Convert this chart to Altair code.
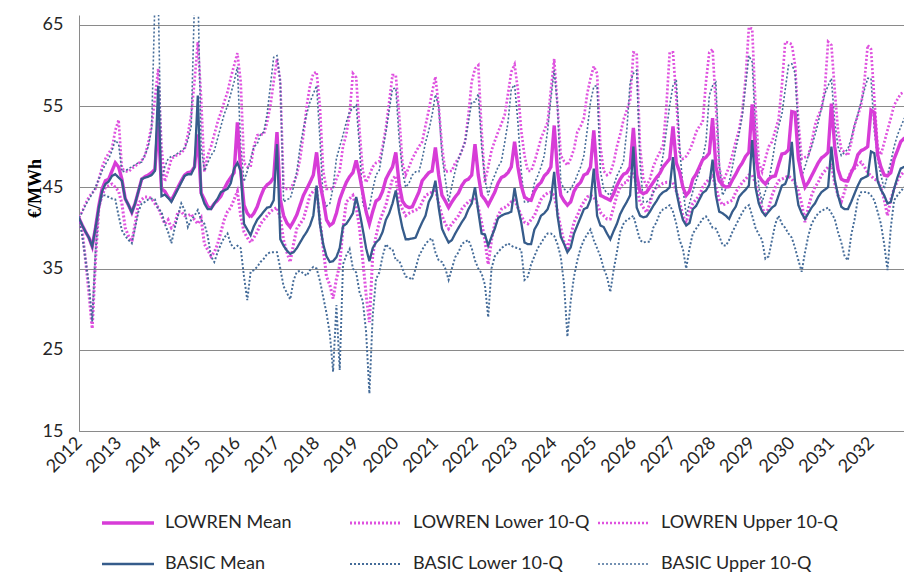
import altair as alt
import pandas as pd

SERIES = ["LOWREN Mean", "LOWREN Lower 10-Q", "LOWREN Upper 10-Q",
          "BASIC Mean", "BASIC Lower 10-Q", "BASIC Upper 10-Q"]
YEAR_TICKS = list(range(0, 241, 12))   # month index of each January label
Y_TICKS = [15, 25, 35, 45, 55, 65]

# monthly values, one row per year 2012..2032 (Jan..Dec)
lowren_mean = [
    [41.2, 40.3, 39.5, 38.8, 37.7, 40.0, 42.7, 44.8, 45.8, 46.0, 47.0, 48.0],
    [47.5, 46.0, 43.6, 42.8, 41.9, 43.0, 44.5, 46.0, 46.3, 46.5, 46.8, 47.2],
    [53.0, 44.8, 44.5, 43.8, 43.4, 44.2, 45.0, 45.8, 46.5, 46.8, 46.9, 47.5],
    [51.5, 44.3, 43.5, 42.6, 42.4, 43.0, 43.4, 43.9, 44.8, 45.6, 46.2, 46.8],
    [53.0, 47.0, 42.8, 41.8, 41.3, 41.8, 42.6, 43.8, 44.8, 45.3, 45.6, 46.2],
    [51.8, 43.5, 41.5, 40.6, 40.1, 40.8, 41.6, 42.8, 44.0, 44.8, 45.6, 46.5],
    [49.3, 45.5, 43.5, 41.0, 40.3, 40.6, 41.8, 43.5, 44.6, 45.6, 46.3, 46.8],
    [48.3, 46.5, 44.3, 42.0, 40.5, 42.0, 43.3, 43.6, 44.5, 46.0, 46.8, 47.5],
    [49.3, 45.5, 43.3, 42.7, 42.5, 42.6, 43.5, 44.4, 45.8, 46.3, 46.8, 47.0],
    [49.9, 46.5, 44.0, 43.3, 42.5, 43.2, 43.8, 44.3, 45.2, 45.8, 46.0, 46.5],
    [50.3, 46.5, 44.0, 43.5, 42.8, 43.6, 44.4, 45.5, 46.2, 46.4, 46.8, 47.5],
    [50.6, 47.5, 45.2, 43.8, 43.5, 43.4, 44.5, 45.2, 45.6, 46.4, 46.8, 47.5],
    [52.6, 47.0, 44.0, 43.3, 42.8, 43.2, 44.5, 45.2, 45.6, 46.5, 46.7, 47.5],
    [52.0, 46.5, 44.0, 43.8, 43.6, 43.4, 44.2, 45.2, 46.0, 46.6, 46.8, 47.5],
    [52.3, 46.5, 44.5, 44.2, 44.4, 45.0, 45.6, 46.2, 46.7, 47.5, 48.0, 48.5],
    [52.5, 48.0, 46.9, 45.0, 44.0, 44.5, 46.0, 46.6, 47.5, 48.4, 48.7, 49.2],
    [53.5, 47.5, 45.8, 45.3, 45.0, 45.1, 45.9, 46.6, 47.4, 48.0, 48.8, 49.3],
    [55.2, 49.0, 46.4, 45.8, 45.4, 46.0, 46.3, 46.4, 47.8, 49.1, 49.2, 49.6],
    [54.3, 54.2, 48.5, 46.5, 45.0, 45.6, 46.4, 47.2, 48.0, 48.6, 48.9, 49.3],
    [55.3, 50.0, 47.2, 46.0, 45.8, 45.8, 46.8, 47.6, 49.0, 49.5, 49.7, 50.0],
    [54.5, 54.2, 49.0, 47.5, 46.5, 46.4, 46.8, 48.5, 49.5, 50.6, 51.0, 51.2],
]
lowren_lower = [
    [41.2, 39.5, 36.0, 32.0, 27.6, 36.0, 42.5, 44.0, 45.0, 45.2, 45.4, 45.0],
    [44.5, 43.0, 40.0, 39.0, 38.3, 40.5, 43.0, 43.5, 43.8, 43.8, 43.6, 43.0],
    [42.5, 41.5, 40.5, 41.0, 40.0, 40.4, 42.0, 42.0, 41.5, 41.5, 41.7, 41.0],
    [40.5, 41.2, 38.0, 37.3, 36.5, 37.0, 38.0, 39.5, 41.0, 42.0, 42.5, 43.5],
    [44.5, 41.5, 39.5, 38.8, 38.2, 38.8, 39.5, 40.5, 41.0, 41.5, 42.0, 42.3],
    [42.5, 41.2, 38.5, 37.0, 35.8, 38.0, 39.9, 40.5, 41.1, 42.5, 44.0, 44.5],
    [44.8, 41.0, 37.5, 34.0, 33.0, 31.3, 33.7, 35.4, 40.0, 43.2, 43.6, 44.0],
    [42.5, 40.0, 36.0, 31.8, 28.4, 36.6, 39.0, 40.7, 41.8, 42.8, 44.5, 46.0],
    [46.4, 43.2, 42.3, 41.5, 41.8, 42.0, 42.2, 42.3, 43.2, 44.0, 44.2, 44.4],
    [44.8, 43.0, 41.5, 40.5, 39.9, 40.5, 41.0, 41.5, 42.3, 42.8, 43.2, 43.5],
    [43.8, 42.5, 40.7, 38.5, 35.5, 38.5, 40.5, 41.5, 42.3, 42.5, 42.8, 43.2],
    [43.4, 42.5, 41.5, 40.7, 40.5, 41.0, 41.5, 42.5, 43.5, 44.0, 44.3, 44.4],
    [44.0, 42.0, 40.0, 38.2, 37.5, 39.0, 40.7, 41.5, 42.5, 43.2, 43.8, 44.0],
    [43.8, 43.0, 41.9, 41.5, 41.1, 41.1, 42.5, 44.0, 45.0, 45.5, 45.6, 46.5],
    [46.9, 45.0, 43.2, 42.5, 41.9, 43.0, 44.5, 45.0, 45.2, 45.5, 45.6, 45.6],
    [45.6, 44.5, 43.2, 41.5, 40.7, 42.0, 43.0, 43.5, 44.0, 45.0, 45.6, 46.0],
    [46.4, 45.0, 43.5, 42.8, 43.0, 43.2, 43.4, 44.4, 45.0, 45.6, 46.0, 46.5],
    [46.5, 45.5, 43.8, 42.5, 41.5, 42.5, 44.0, 45.0, 45.8, 46.0, 46.2, 46.4],
    [46.0, 45.5, 44.5, 43.0, 40.7, 42.5, 44.0, 45.0, 45.6, 46.5, 47.0, 47.5],
    [47.7, 45.5, 44.0, 43.2, 44.5, 46.0, 47.0, 47.3, 47.8, 48.1, 47.5, 46.8],
    [46.4, 46.0, 45.8, 45.0, 43.5, 41.5, 43.5, 44.8, 45.8, 46.5, 46.9, 47.0],
]
lowren_upper = [
    [41.3, 42.0, 43.0, 43.8, 44.3, 44.8, 46.0, 47.5, 48.5, 49.2, 49.8, 52.0],
    [53.3, 47.3, 47.0, 46.9, 47.3, 47.6, 47.9, 48.3, 48.9, 50.5, 52.6, 55.9],
    [59.6, 50.0, 45.7, 47.0, 48.5, 48.8, 49.0, 49.2, 49.7, 51.5, 53.9, 58.0],
    [62.9, 56.0, 46.9, 48.9, 50.0, 51.5, 53.0, 54.2, 55.5, 56.7, 58.5, 60.0],
    [61.5, 58.0, 48.0, 47.5, 47.5, 50.0, 51.4, 51.5, 51.5, 53.0, 55.0, 58.0],
    [60.8, 58.0, 44.8, 44.8, 44.8, 45.5, 46.5, 48.5, 51.4, 55.0, 57.5, 59.0],
    [59.2, 55.0, 47.0, 44.8, 44.8, 44.8, 46.0, 47.0, 50.0, 51.5, 54.0, 59.0],
    [58.5, 52.0, 47.0, 45.6, 46.5, 47.5, 48.0, 48.2, 50.0, 52.3, 55.5, 58.8],
    [58.8, 54.0, 48.0, 46.5, 47.5, 48.5, 49.3, 50.0, 50.6, 52.6, 54.5, 56.7],
    [58.6, 55.0, 50.0, 46.9, 47.0, 47.0, 48.0, 48.5, 49.5, 50.6, 53.9, 58.0],
    [59.6, 60.0, 52.0, 45.6, 47.5, 49.5, 50.7, 51.8, 52.8, 53.9, 56.5, 59.2],
    [60.1, 57.0, 52.0, 48.9, 47.0, 47.0, 48.1, 49.5, 51.0, 52.0, 53.0, 57.0],
    [60.8, 55.0, 48.9, 48.2, 47.7, 48.5, 49.7, 51.8, 52.5, 53.5, 56.5, 58.4],
    [59.9, 59.0, 50.0, 47.0, 46.5, 46.8, 48.0, 50.0, 51.5, 53.3, 54.5, 55.7],
    [61.6, 61.5, 50.0, 46.0, 45.2, 46.0, 47.5, 48.5, 49.3, 50.2, 55.0, 61.6],
    [61.6, 56.0, 49.0, 48.5, 48.8, 49.5, 50.5, 51.8, 52.5, 53.0, 58.0, 61.6],
    [62.0, 55.0, 47.5, 45.6, 46.5, 47.5, 49.0, 50.6, 52.0, 54.3, 58.4, 64.7],
    [64.5, 55.0, 48.0, 46.9, 48.5, 50.0, 50.6, 52.0, 53.4, 57.5, 62.9, 62.8],
    [62.6, 60.0, 53.0, 48.5, 48.7, 48.9, 50.5, 52.6, 53.8, 54.7, 57.0, 62.9],
    [62.5, 57.0, 52.0, 49.7, 49.3, 48.9, 50.5, 52.6, 53.8, 55.1, 58.0, 62.5],
    [62.0, 56.0, 50.0, 49.0, 50.5, 52.0, 53.5, 55.1, 55.8, 56.5, 56.7, 56.8],
]
basic_mean = [
    [41.2, 40.3, 39.5, 38.8, 37.7, 40.0, 42.5, 44.5, 45.4, 45.7, 46.4, 46.6],
    [46.2, 45.8, 43.6, 42.8, 41.9, 43.0, 44.5, 46.0, 46.2, 46.3, 46.5, 47.0],
    [57.5, 43.9, 44.1, 43.7, 43.2, 44.0, 44.8, 45.6, 46.4, 46.6, 46.6, 47.5],
    [56.3, 44.2, 43.0, 42.3, 42.3, 43.0, 43.6, 44.4, 44.6, 44.8, 45.5, 47.3],
    [48.0, 47.0, 40.5, 39.8, 39.1, 40.2, 41.0, 41.5, 42.0, 42.5, 42.6, 43.4],
    [50.3, 38.6, 37.8, 37.2, 36.8, 37.0, 37.5, 38.2, 38.9, 39.5, 40.3, 41.5],
    [45.2, 40.5, 38.0, 36.5, 35.8, 35.9, 36.4, 37.5, 40.2, 40.5, 41.1, 41.8],
    [43.8, 42.0, 39.8, 37.5, 35.9, 37.5, 38.2, 38.6, 39.5, 41.0, 41.8, 43.0],
    [44.6, 42.0, 40.0, 38.6, 38.6, 38.7, 38.8, 39.8, 40.7, 41.5, 43.2, 44.0],
    [45.8, 42.5, 39.9, 39.0, 38.2, 38.5, 39.3, 40.0, 40.7, 41.3, 42.3, 43.0],
    [45.0, 42.0, 39.3, 39.2, 37.8, 38.9, 39.9, 41.2, 41.5, 41.7, 41.8, 42.0],
    [44.9, 42.5, 40.7, 38.2, 38.0, 38.0, 39.8, 40.5, 41.5, 41.8, 42.3, 43.5],
    [46.9, 41.5, 38.9, 38.0, 37.0, 37.6, 39.3, 40.3, 41.3, 42.3, 42.5, 43.5],
    [47.3, 41.5, 40.3, 40.1, 39.3, 38.6, 39.6, 40.5, 41.7, 42.5, 43.2, 44.0],
    [50.0, 42.5, 41.5, 41.3, 41.4, 42.0, 42.7, 43.3, 44.0, 44.4, 44.6, 45.0],
    [48.7, 44.5, 42.5, 41.0, 40.3, 40.6, 42.3, 42.7, 43.5, 44.3, 44.6, 45.3],
    [48.4, 44.0, 42.0, 41.8, 41.5, 41.1, 42.0, 42.6, 43.8, 44.3, 44.7, 45.2],
    [50.8, 45.0, 43.0, 42.0, 41.5, 42.0, 42.5, 42.8, 44.0, 45.2, 45.4, 46.5],
    [50.6, 45.5, 42.8, 41.8, 41.1, 41.8, 42.5, 43.0, 43.8, 44.4, 44.7, 45.0],
    [50.0, 46.0, 44.0, 42.6, 42.3, 42.3, 43.2, 44.2, 45.2, 46.0, 46.2, 46.4],
    [49.4, 49.2, 45.8, 44.7, 44.0, 43.0, 43.2, 44.8, 46.2, 47.3, 47.5, 47.7],
]
basic_lower = [
    [41.2, 39.0, 36.0, 33.0, 28.5, 37.0, 42.5, 44.0, 44.0, 43.8, 43.6, 43.5],
    [41.5, 39.7, 39.0, 38.5, 38.1, 40.0, 42.0, 43.0, 43.2, 43.5, 43.6, 43.5],
    [42.3, 42.0, 40.5, 39.5, 38.1, 40.0, 41.5, 43.0, 42.2, 40.1, 41.0, 41.5],
    [42.2, 41.0, 40.5, 39.0, 36.5, 35.8, 37.0, 38.0, 38.8, 39.3, 38.0, 37.5],
    [37.8, 37.5, 34.0, 31.1, 34.6, 34.8, 35.2, 35.8, 36.2, 36.8, 37.0, 37.0],
    [37.0, 35.0, 32.8, 32.0, 31.2, 33.5, 34.6, 34.7, 34.4, 34.1, 34.8, 35.2],
    [35.0, 33.5, 31.5, 29.5, 27.0, 22.3, 30.5, 22.5, 35.5, 36.6, 37.4, 35.0],
    [34.5, 32.1, 31.0, 27.2, 19.6, 29.2, 33.7, 34.5, 36.5, 38.0, 37.5, 37.4],
    [36.0, 36.0, 35.0, 34.0, 33.9, 33.6, 35.0, 36.5, 37.3, 38.0, 38.5, 38.7],
    [37.0, 36.0, 35.8, 35.0, 33.6, 35.0, 36.4, 37.0, 38.0, 38.3, 38.5, 37.5],
    [36.0, 35.0, 34.4, 33.0, 29.0, 35.0, 36.5, 37.0, 37.5, 37.8, 38.1, 37.8],
    [37.6, 37.5, 37.3, 33.6, 34.0, 35.5, 36.5, 37.5, 38.1, 38.8, 39.3, 39.3],
    [39.0, 38.0, 36.4, 33.0, 26.6, 31.0, 34.0, 36.0, 37.5, 38.5, 39.2, 39.8],
    [38.5, 37.5, 36.5, 35.0, 34.0, 32.1, 34.8, 37.0, 39.5, 40.5, 41.0, 41.2],
    [41.5, 40.0, 38.5, 38.2, 38.3, 38.3, 40.0, 40.7, 41.8, 42.3, 42.5, 42.8],
    [42.0, 40.5, 38.5, 37.4, 35.0, 37.5, 39.3, 39.9, 40.5, 41.1, 41.4, 40.8],
    [40.0, 39.9, 39.0, 37.9, 37.8, 38.5, 39.5, 40.3, 41.1, 41.9, 42.5, 42.8],
    [41.5, 40.0, 39.2, 38.5, 36.2, 36.5, 38.5, 40.5, 41.5, 40.5, 40.0, 39.3],
    [38.8, 37.5, 36.0, 34.6, 37.0, 39.0, 40.5, 41.2, 41.8, 42.1, 42.3, 42.5],
    [41.8, 41.1, 39.5, 38.2, 36.5, 36.0, 39.1, 41.0, 43.5, 44.4, 44.4, 44.4],
    [44.0, 43.4, 42.0, 40.5, 38.0, 34.8, 40.0, 43.4, 44.0, 44.5, 45.0, 45.2],
]
basic_upper = [
    [41.2, 42.0, 42.8, 43.5, 44.2, 45.0, 46.0, 47.0, 47.8, 48.5, 49.5, 50.8],
    [50.3, 46.9, 47.0, 47.3, 47.5, 47.8, 48.0, 48.1, 49.0, 50.0, 52.2, 68.0],
    [69.0, 46.0, 47.5, 48.5, 48.8, 48.9, 49.2, 49.5, 49.8, 50.8, 52.5, 68.0],
    [70.0, 50.0, 47.0, 48.0, 48.9, 49.5, 51.0, 52.5, 54.0, 55.0, 56.5, 58.0],
    [59.8, 50.0, 45.7, 47.0, 48.5, 50.0, 50.3, 51.5, 51.8, 54.0, 57.5, 61.0],
    [61.2, 58.0, 43.2, 43.5, 43.6, 45.0, 46.9, 50.0, 52.2, 54.0, 55.5, 56.5],
    [57.5, 51.0, 43.5, 42.7, 43.0, 45.0, 48.5, 50.0, 51.4, 53.0, 54.3, 54.7],
    [55.1, 50.0, 43.0, 41.9, 42.5, 44.7, 46.5, 47.1, 49.5, 51.8, 54.5, 57.1],
    [57.2, 51.0, 47.0, 45.0, 45.5, 46.5, 46.9, 46.9, 48.5, 50.5, 52.0, 53.9],
    [56.4, 55.0, 48.9, 46.0, 43.2, 45.2, 47.0, 48.5, 49.5, 50.6, 53.0, 55.5],
    [55.5, 56.5, 50.0, 46.0, 44.0, 45.5, 46.5, 47.5, 48.2, 50.5, 53.0, 57.1],
    [57.6, 53.0, 47.0, 43.2, 43.2, 43.5, 45.5, 46.4, 47.5, 48.9, 52.0, 55.9],
    [59.4, 55.0, 45.6, 44.8, 44.4, 44.8, 45.5, 46.5, 47.5, 48.9, 52.0, 55.5],
    [57.4, 57.5, 47.0, 44.8, 44.3, 44.0, 45.2, 46.4, 47.2, 48.2, 52.0, 57.9],
    [59.0, 59.4, 48.0, 43.2, 43.2, 43.5, 44.3, 45.2, 46.8, 48.9, 52.0, 55.1],
    [57.5, 58.2, 50.0, 45.0, 41.5, 43.0, 44.5, 45.8, 46.9, 48.5, 50.6, 56.3],
    [57.5, 57.9, 48.0, 44.0, 44.8, 45.6, 47.5, 49.7, 51.5, 53.8, 57.5, 61.2],
    [60.4, 52.0, 45.0, 43.2, 44.5, 45.6, 48.0, 50.6, 52.5, 54.0, 57.0, 60.0],
    [60.2, 59.0, 52.0, 46.4, 47.5, 48.9, 50.0, 51.4, 53.0, 54.7, 56.5, 57.5],
    [58.4, 53.0, 50.0, 48.9, 49.3, 49.7, 51.0, 52.6, 54.0, 55.5, 57.0, 58.4],
    [58.4, 52.0, 48.5, 46.5, 44.8, 46.5, 48.1, 50.0, 51.4, 52.4, 53.4, 54.0],
]

TABLES = [lowren_mean, lowren_lower, lowren_upper, basic_mean, basic_lower, basic_upper]

rows = []
for name, table in zip(SERIES, TABLES):
    month = 0
    for year_vals in table:
        for v in year_vals:
            rows.append({"month": month, "value": v, "series": name})
            month += 1
df = pd.DataFrame(rows)

PINK = "#D73CD7"
PINK_DOT = "#DF52DF"
BLUE = "#365C8B"
BLUE_DOT = "#456C99"
FONT = "Lato"
TEXT = "#262626"
GRID = "#8A8A8A"

legend = alt.Legend(
    title=None, orient="none", legendX=21, legendY=497,
    direction="horizontal", columns=3, gridAlign="all",
    columnPadding=5, rowPadding=19, clipHeight=22,
    symbolType="stroke", symbolSize=2700, labelOffset=9,
    labelFont=FONT, labelFontSize=18, labelColor=TEXT, labelLimit=400,
)

x_enc = alt.X("month:Q", scale=alt.Scale(domain=[0, 250], nice=False, zero=False),
              axis=alt.Axis(values=YEAR_TICKS, labelExpr="toString(2012 + datum.value / 12)",
                            labelAngle=-45, labelAlign="right", labelBaseline="middle",
                            labelPadding=9, labelFlush=False, labelOverlap=False,
                            grid=False, ticks=False, domain=True, domainColor=GRID,
                            labelFont=FONT, labelFontSize=18, labelColor=TEXT, title=None))
y_enc = alt.Y("value:Q", scale=alt.Scale(domain=[15, 66.2], nice=False, zero=False),
              axis=alt.Axis(values=Y_TICKS, grid=True, gridColor=GRID, gridWidth=1,
                            ticks=False, domain=True, domainColor=GRID, labelPadding=16,
                            labelFlush=False, labelFont=FONT, labelFontSize=18, labelColor=TEXT,
                            title="€/MWh", titleFont="Liberation Serif", titleFontSize=18,
                            titleFontWeight="bold", titleColor="#000000", titleAngle=270,
                            titleX=-44, titleY=173, titleAlign="center", titleBaseline="middle"))
color_enc = alt.Color("series:N", scale=alt.Scale(domain=SERIES,
                      range=[PINK, PINK_DOT, PINK_DOT, BLUE, BLUE_DOT, BLUE_DOT]), legend=legend)
dash_enc = alt.StrokeDash("series:N", scale=alt.Scale(domain=SERIES,
                          range=[[1, 0], [2, 2], [2, 2], [1, 0], [2, 2], [2, 2]]), legend=legend)
width_enc = alt.StrokeWidth("series:N", scale=alt.Scale(domain=SERIES,
                            range=[3.4, 1.6, 1.6, 3.4, 1.6, 1.6]), legend=legend)

def layer(names):
    return alt.Chart(df).transform_filter(
        alt.FieldOneOfPredicate(field="series", oneOf=names)
    ).mark_line(clip=True).encode(
        x=x_enc, y=y_enc, color=color_enc, strokeDash=dash_enc, strokeWidth=width_enc,
        detail="series:N",
    )

chart = alt.layer(
    layer(["LOWREN Lower 10-Q", "LOWREN Upper 10-Q", "BASIC Lower 10-Q", "BASIC Upper 10-Q"]),
    layer(["LOWREN Mean"]),
    layer(["BASIC Mean"]),
).properties(
    width=825, height=416,
    autosize=alt.AutoSizeParams(type="none"),
    padding={"left": 79, "top": 15, "right": 0, "bottom": 142},
    background="white",
).configure_view(stroke=None)

chart.save("out.html", embed_options={"renderer": "svg", "actions": False})
